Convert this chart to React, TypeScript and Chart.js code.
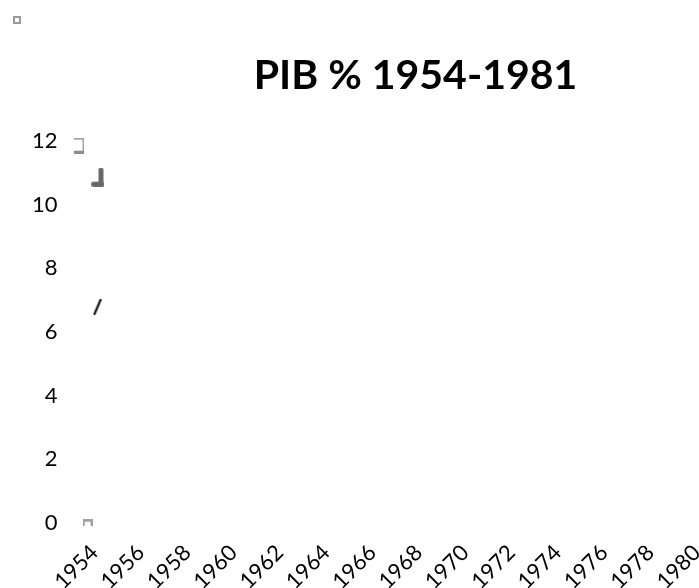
import React, { useEffect, useRef } from 'react';
import { Chart, registerables } from 'chart.js';

Chart.register(...registerables);

const years = [
  '1954', '1955', '1956', '1957', '1958', '1959', '1960', '1961', '1962', '1963',
  '1964', '1965', '1966', '1967', '1968', '1969', '1970', '1971', '1972', '1973',
  '1974', '1975', '1976', '1977', '1978', '1979', '1980', '1981',
];
const yTicks = [0, 2, 4, 6, 8, 10, 12];
const titleText = 'PIB % 1954-1981';

// marks seen near the first year (x as fractional year index, y as value)
const markKinds = ['a', 'b', 'c', 'd'];
const markX = [-0.65, 0.15, 0.13, -0.3];
const markY = [11.86, 10.87, 6.79, 0.0];

function makeMark(kind: string): HTMLCanvasElement {
  const c = document.createElement('canvas');
  const ctx = c.getContext('2d') as CanvasRenderingContext2D;
  if (kind === 'a') {
    c.width = 10; c.height = 16;
    ctx.fillStyle = '#a3a3a3';
    ctx.fillRect(0, 0, 10, 2);
    ctx.fillRect(8, 0, 2, 16);
    ctx.fillStyle = '#8c8c8c';
    ctx.fillRect(0, 13, 10, 3);
  } else if (kind === 'b') {
    c.width = 13; c.height = 19;
    ctx.fillStyle = '#686868';
    ctx.beginPath();
    ctx.roundRect(7, 0, 5, 19, 2);
    ctx.fill();
    ctx.beginPath();
    ctx.roundRect(0, 14, 13, 5, 2);
    ctx.fill();
  } else if (kind === 'c') {
    c.width = 10; c.height = 16;
    ctx.strokeStyle = '#111111';
    ctx.lineWidth = 2.2;
    ctx.lineCap = 'round';
    ctx.beginPath();
    ctx.moveTo(2, 15);
    ctx.lineTo(8, 1);
    ctx.stroke();
  } else {
    c.width = 10; c.height = 7;
    ctx.fillStyle = '#9c9c9c';
    ctx.fillRect(0, 0, 10, 2.5);
    ctx.fillRect(0, 0, 2, 7);
    ctx.fillRect(8, 0, 2, 7);
  }
  return c;
}

export default function App() {
  const ref = useRef<HTMLCanvasElement | null>(null);

  useEffect(() => {
    if (!ref.current) return;
    const chart = new Chart(ref.current, {
      type: 'line',
      data: {
        labels: years,
        datasets: [
          {
            type: 'scatter',
            label: 'PIB %',
            xAxisID: 'xp',
            yAxisID: 'y',
            data: markX.map((x, i) => ({ x, y: markY[i] })),
            pointStyle: markKinds.map((k) => makeMark(k)) as any,
            pointRadius: 24,
            clip: false as any,
            showLine: false,
          } as any,
        ],
      },
      options: {
        responsive: false,
        animation: false,
        layout: { padding: { left: -5, right: -5, top: -2, bottom: -1.5 } },
        plugins: {
          tooltip: { enabled: false },
          legend: {
            display: true,
            position: 'top',
            align: 'start',
            weight: 3000,
            labels: {
              boxWidth: 6,
              boxHeight: 6,
              padding: 19,
              font: { size: 6, family: 'Lato' },
              generateLabels: () => [
                {
                  text: '',
                  fillStyle: '#ffffff',
                  strokeStyle: '#9a9a9a',
                  lineWidth: 2,
                  hidden: false,
                  datasetIndex: 0,
                } as any,
              ],
            },
          },
          title: {
            display: true,
            text: titleText,
            color: '#000000',
            font: { family: 'Lato', size: 41, weight: 'bold' },
            padding: { top: 18.5, bottom: 40.5 },
          },
        },
        scales: {
          x: {
            type: 'category',
            offset: false,
            grid: { display: false, drawTicks: false },
            border: { display: false },
            ticks: {
              autoSkip: false,
              maxRotation: 45,
              minRotation: 45,
              padding: 17,
              color: '#000000',
              font: { family: 'Lato', size: 22 },
              callback: (_v: any, i: number) => (i % 2 === 0 ? years[i] : null),
            },
          },
          xp: {
            type: 'linear',
            display: false,
            position: 'bottom',
            min: 0,
            max: years.length - 1,
          },
          y: {
            min: yTicks[0],
            max: yTicks[yTicks.length - 1],
            grid: { display: false, drawTicks: false },
            border: { display: false },
            ticks: {
              stepSize: 2,
              padding: 37,
              color: '#000000',
              font: { family: 'Lato', size: 22 },
            },
          },
          yr: {
            position: 'right',
            min: yTicks[0],
            max: yTicks[yTicks.length - 1],
            grid: { display: false, drawTicks: false },
            border: { display: false },
            ticks: {
              stepSize: 2,
              padding: 58,
              callback: () => '',
            },
          },
        },
      },
    });
    return () => chart.destroy();
  }, []);

  return (
    <div
      style={{
        position: 'fixed',
        left: 0,
        top: 0,
        width: 699,
        height: 588,
        overflow: 'hidden',
        background: '#ffffff',
      }}
    >
      <canvas ref={ref} width={831} height={610} style={{ width: 831, height: 610, display: 'block' }} />
    </div>
  );
}
